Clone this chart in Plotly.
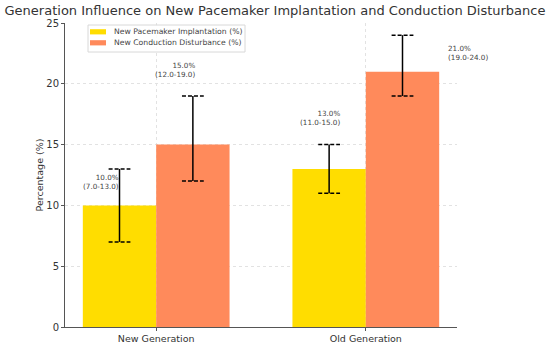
import plotly.graph_objects as go

categories = ["New Generation", "Old Generation"]
series_names = ["New Pacemaker Implantation (%)", "New Conduction Disturbance (%)"]
pacemaker = [10.0, 13.0]
pacemaker_low = [7.0, 11.0]
pacemaker_high = [13.0, 15.0]
conduction = [15.0, 21.0]
conduction_low = [12.0, 19.0]
conduction_high = [19.0, 24.0]
y_ticks = [0, 5, 10, 15, 20, 25]

colors = ["#FFDD00", "#FF8A5B"]
bar_w = 0.35
cap_hw = 0.052

W, H = 550, 343
ML, MR, MT, MB = 65, 93, 23, 16
PW, PH = W - ML - MR, H - MT - MB

fig = go.Figure()
xc = list(range(len(categories)))
series = [
    (pacemaker, pacemaker_low, pacemaker_high, -bar_w / 2),
    (conduction, conduction_low, conduction_high, bar_w / 2),
]
for i, (vals, lo, hi, off) in enumerate(series):
    fig.add_trace(go.Bar(
        x=[c + off for c in xc], y=vals, width=bar_w,
        marker=dict(color=colors[i], line=dict(width=0)),
        name=series_names[i], showlegend=False,
    ))

# error bars
for i, (vals, lo, hi, off) in enumerate(series):
    vx, vy, cx, cy = [], [], [], []
    for c, l, h in zip(xc, lo, hi):
        x = c + off
        vx += [x, x, None]
        vy += [l, h, None]
        for v in (l, h):
            cx += [x - cap_hw, x + cap_hw, None]
            cy += [v, v, None]
    fig.add_trace(go.Scatter(x=vx, y=vy, mode="lines", line=dict(color="black", width=1.5),
                             showlegend=False, hoverinfo="skip"))
    fig.add_trace(go.Scatter(x=cx, y=cy, mode="lines",
                             line=dict(color="black", width=1.5, dash="4px,2px"),
                             showlegend=False, hoverinfo="skip"))

# value labels (pixel offsets relative to bar center / upper bound; positive dy = up)
label_offsets = [
    [(1, -13, "right"), (13, 27, "right")],     # pacemaker: new, old
    [(4.5, 26, "right"), (43.5, -18, "left")],  # conduction: new, old
]
for i, (vals, lo, hi, off) in enumerate(series):
    for j, c in enumerate(xc):
        dx, dy, al = label_offsets[i][j]
        fig.add_annotation(
            x=c + off, y=hi[j], xref="x", yref="y",
            text=f"{vals[j]:.1f}%<br>({lo[j]:.1f}-{hi[j]:.1f})",
            showarrow=False, xanchor=al, yanchor="middle", align=al,
            xshift=dx, yshift=dy,
            font=dict(size=7.2, color="#444", family="DejaVu Sans"),
        )

# custom legend (drawn in paper coords)
def px(x):
    return (x - ML) / PW
def py(y):
    return 1 - (y - MT) / PH

fig.add_shape(type="rect", xref="paper", yref="paper",
              x0=px(88), x1=px(245), y0=py(52), y1=py(25),
              line=dict(color="#d8d8d8", width=1), fillcolor="rgba(255,255,255,0.85)", layer="above")
for k, name in enumerate(series_names):
    yc = 31.8 + k * 11
    fig.add_shape(type="rect", xref="paper", yref="paper",
                  x0=px(90), x1=px(106), y0=py(yc + 2.6), y1=py(yc - 2.6),
                  line=dict(width=0), fillcolor=colors[k], layer="above")
    fig.add_annotation(x=px(112), y=py(yc), xref="paper", yref="paper", text=name,
                       showarrow=False, xanchor="left", yanchor="middle",
                       font=dict(size=7.7, color="#444", family="DejaVu Sans"))

fig.update_layout(
    width=W, height=H,
    margin=dict(l=ML, r=MR, t=MT, b=MB),
    plot_bgcolor="white", paper_bgcolor="white",
    font=dict(family="DejaVu Sans", color="#333"),
    title=dict(text="Generation Influence on New Pacemaker Implantation and Conduction Disturbance",
               x=0.5, xanchor="center", y=1 - 10.5 / H, yanchor="middle", yref="container",
               font=dict(size=13.0, color="#333")),
    barmode="overlay",
    showlegend=False,
    xaxis=dict(range=[-0.435, 1.435], tickvals=xc, ticktext=categories,
               showgrid=True, gridcolor="#e2e2e2", griddash="dot", gridwidth=1,
               showline=True, linecolor="#555", linewidth=1,
               ticks="outside", ticklen=3, tickcolor="#555", automargin=False,
               tickfont=dict(size=9.5, color="#333"), zeroline=False),
    yaxis=dict(range=[0, 25], tickvals=y_ticks,
               showgrid=True, gridcolor="#e2e2e2", griddash="dot", gridwidth=1,
               showline=True, linecolor="#555", linewidth=1,
               ticks="outside", ticklen=3, tickcolor="#555", automargin=False,
               tickfont=dict(size=10, color="#333"), zeroline=False,
               title=dict(text="Percentage (%)", font=dict(size=9.5, color="#333"), standoff=0)),
)

fig.write_html("out.html", config={"displayModeBar": False},
               post_script="document.body.style.margin='0';document.body.style.overflow='hidden';")
